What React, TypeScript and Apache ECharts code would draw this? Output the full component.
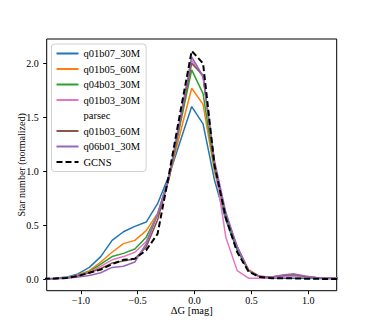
import React, { useEffect, useRef } from "react";
import * as echarts from "echarts";

const xCenters = [-1.325, -1.225, -1.125, -1.025, -0.925, -0.825, -0.725, -0.625, -0.525, -0.425, -0.325, -0.225, -0.125, -0.025, 0.075, 0.175, 0.275, 0.375, 0.475, 0.575, 0.675, 0.775, 0.875, 0.975, 1.075, 1.175, 1.275];

const q01b07_30M = [0.005, 0.01, 0.02, 0.05, 0.11, 0.21, 0.36, 0.44, 0.49, 0.53, 0.70, 0.96, 1.28, 1.60, 1.44, 0.92, 0.55, 0.27, 0.08, 0.02, 0.01, 0.01, 0.01, 0.01, 0.008, 0.005, 0.005];
const q01b05_60M = [0.005, 0.008, 0.015, 0.04, 0.08, 0.16, 0.25, 0.33, 0.36, 0.45, 0.61, 0.94, 1.36, 1.77, 1.62, 1.0, 0.58, 0.30, 0.09, 0.025, 0.02, 0.025, 0.03, 0.02, 0.015, 0.01, 0.01];
const q04b03_30M = [0.005, 0.008, 0.015, 0.035, 0.07, 0.14, 0.21, 0.24, 0.28, 0.39, 0.60, 0.93, 1.44, 1.94, 1.72, 1.03, 0.58, 0.29, 0.08, 0.025, 0.02, 0.025, 0.03, 0.02, 0.015, 0.01, 0.01];
const q01b03_30M = [0.005, 0.008, 0.015, 0.035, 0.065, 0.12, 0.18, 0.21, 0.25, 0.35, 0.60, 0.94, 1.48, 2.03, 1.87, 1.08, 0.39, 0.08, 0.01, 0.01, 0.01, 0.02, 0.03, 0.02, 0.015, 0.01, 0.01];
const q01b03_60M = [0.005, 0.008, 0.012, 0.03, 0.06, 0.10, 0.15, 0.17, 0.19, 0.30, 0.55, 0.93, 1.47, 2.00, 1.89, 1.06, 0.60, 0.30, 0.08, 0.025, 0.02, 0.035, 0.045, 0.025, 0.015, 0.01, 0.01];
const q06b01_30M = [0.003, 0.005, 0.01, 0.02, 0.035, 0.06, 0.11, 0.12, 0.16, 0.33, 0.60, 0.95, 1.50, 2.06, 1.88, 1.10, 0.62, 0.30, 0.08, 0.025, 0.02, 0.04, 0.05, 0.03, 0.015, 0.01, 0.01];
const GCNS = [0.005, 0.008, 0.012, 0.03, 0.06, 0.09, 0.14, 0.18, 0.19, 0.27, 0.42, 0.97, 1.55, 2.115, 2.0, 1.06, 0.57, 0.25, 0.07, 0.02, 0.01, 0.01, 0.008, 0.005, 0.004, 0.003, 0.003];

const xTicks = [-1.0, -0.5, 0.0, 0.5, 1.0];
const yTicks = [0.0, 0.5, 1.0, 1.5, 2.0];

const FONT = "Liberation Serif";

const fmt = (v: number) => {
  const s = Math.abs(v).toFixed(1);
  return v < -1e-9 ? "\u2212" + s : s;
};

const pair = (ys: number[]) => xCenters.map((x, i) => [x, ys[i]]);

export default function App() {
  const ref = useRef<HTMLDivElement>(null);
  useEffect(() => {
    if (!ref.current) return;
    const chart = echarts.init(ref.current, null, { renderer: "svg" });
    const line = (name: string, data: number[], color: string) => ({
      name,
      type: "line",
      data: pair(data),
      symbol: "none",
      showSymbol: false,
      lineStyle: { color, width: 1.5 },
      itemStyle: { color },
      z: 2,
    });
    chart.setOption({
      animation: false,
      backgroundColor: "#fff",
      textStyle: { fontFamily: FONT },
      grid: {
        left: 46.7,
        top: 39,
        width: 290,
        height: 251.7,
        show: true,
        borderColor: "#000",
        borderWidth: 1,
        backgroundColor: "transparent",
      },
      legend: {
        orient: "vertical",
        left: 51.5,
        top: 44,
        padding: [4, 6, 4, 4],
        itemWidth: 22,
        itemHeight: 10,
        itemGap: 4.5,
        selectedMode: false,
        backgroundColor: "rgba(255,255,255,0.8)",
        borderColor: "#d0d0d0",
        borderWidth: 1,
        borderRadius: 3,
        itemStyle: { opacity: 0 },
        textStyle: { fontFamily: FONT, fontSize: 10.5, color: "#000" },
        data: [
          "q01b07_30M",
          "q01b05_60M",
          "q04b03_30M",
          "q01b03_30M",
          { name: "parsec", itemStyle: { opacity: 0 }, lineStyle: { opacity: 0 } },
          "q01b03_60M",
          "q06b01_30M",
          "GCNS",
        ],
      },
      xAxis: {
        type: "value",
        min: -1.3,
        max: 1.25,
        name: "\u0394G [mag]",
        nameLocation: "middle",
        nameGap: 14,
        nameMoveOverlap: false,
        nameTextStyle: { fontFamily: FONT, fontSize: 10.5, color: "#000" },
        axisLine: { show: false, onZero: false },
        splitLine: { show: false },
        axisTick: { show: true, customValues: xTicks, length: 3.5, lineStyle: { color: "#000" } },
        axisLabel: {
          customValues: xTicks,
          formatter: fmt,
          margin: 5,
          fontFamily: FONT,
          fontSize: 10,
          color: "#000",
        },
      },
      yAxis: {
        type: "value",
        min: -0.106,
        max: 2.226,
        name: "Star number (normalized)",
        nameLocation: "middle",
        nameGap: 20,
        nameMoveOverlap: false,
        nameTextStyle: { fontFamily: FONT, fontSize: 10, color: "#000" },
        axisLine: { show: false, onZero: false },
        splitLine: { show: false },
        axisTick: { show: true, customValues: yTicks, length: 3.5, lineStyle: { color: "#000" } },
        axisLabel: {
          customValues: yTicks,
          formatter: fmt,
          margin: 8,
          fontFamily: FONT,
          fontSize: 10,
          color: "#000",
        },
      },
      series: [
        line("q01b07_30M", q01b07_30M, "#1f77b4"),
        line("q01b05_60M", q01b05_60M, "#ff7f0e"),
        line("q04b03_30M", q04b03_30M, "#2ca02c"),
        line("q01b03_30M", q01b03_30M, "#e377c2"),
        {
          name: "parsec",
          type: "line",
          data: [],
          symbol: "none",
          lineStyle: { opacity: 0 },
          itemStyle: { opacity: 0 },
        },
        line("q01b03_60M", q01b03_60M, "#8c564b"),
        line("q06b01_30M", q06b01_30M, "#9467bd"),
        {
          name: "GCNS",
          type: "line",
          data: pair(GCNS),
          symbol: "none",
          showSymbol: false,
          lineStyle: { color: "#000", width: 2, type: [6, 3] },
          itemStyle: { color: "#000" },
          z: 3,
        },
      ],
    });
    return () => chart.dispose();
  }, []);
  return (
    <div
      ref={ref}
      style={{ position: "absolute", left: 0, top: 0, width: 374, height: 327, background: "#fff" }}
    />
  );
}
